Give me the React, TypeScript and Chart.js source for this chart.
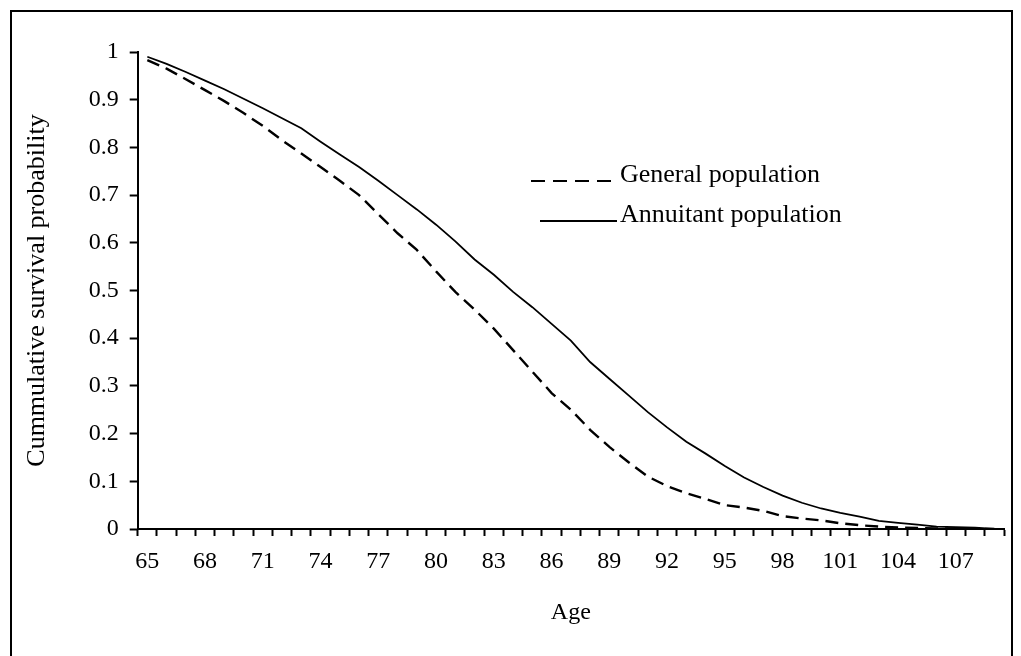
import React, { useEffect, useRef } from "react";
import { Chart, registerables } from "chart.js";

Chart.register(...registerables);

const ages: string[] = [];
for (let a = 65; a <= 109; a++) ages.push(String(a));

const generalPopulation = [
  0.983, 0.965, 0.943, 0.92, 0.897, 0.872, 0.845, 0.815, 0.787, 0.759,
  0.73, 0.70, 0.66, 0.62, 0.585, 0.54, 0.497, 0.46, 0.42, 0.375,
  0.33, 0.285, 0.25, 0.208, 0.172, 0.14, 0.11, 0.09, 0.075, 0.063,
  0.05, 0.045, 0.038, 0.027, 0.022, 0.018, 0.012, 0.008, 0.005, 0.003,
  0.002, 0.001, 0.001, 0.0005, 0.0,
];

const annuitantPopulation = [
  0.99, 0.975, 0.958, 0.94, 0.922, 0.902, 0.882, 0.861, 0.84, 0.812,
  0.785, 0.759, 0.73, 0.70, 0.67, 0.638, 0.603, 0.565, 0.533, 0.497,
  0.465, 0.43, 0.395, 0.35, 0.315, 0.28, 0.245, 0.213, 0.183, 0.158,
  0.132, 0.108, 0.088, 0.07, 0.055, 0.043, 0.034, 0.026, 0.017, 0.013,
  0.009, 0.005, 0.004, 0.003, 0.0,
];

const seriesLabels = ["General population", "Annuitant population"];
const yTitle = "Cummulative survival probability";
const xTitle = "Age";

const FONT = "'Liberation Serif', 'Times New Roman', serif";

const frame = {
  id: "frame",
  beforeDraw(chart: any) {
    const ctx = chart.ctx;
    ctx.save();
    ctx.fillStyle = "#fff";
    ctx.fillRect(0, 0, chart.width, chart.height);
    ctx.strokeStyle = "#000";
    ctx.lineWidth = 2;
    ctx.strokeRect(11, 11, 1001, 700);
    ctx.restore();
  },
};

const innerLegend = {
  id: "innerLegend",
  afterDatasetsDraw(chart: any) {
    const ctx = chart.ctx;
    const starts = [531, 540];
    ctx.save();
    chart.data.datasets.forEach((ds: any, i: number) => {
      const y = 181 + i * 40;
      ctx.beginPath();
      ctx.strokeStyle = "#000";
      ctx.lineWidth = 2;
      ctx.setLineDash(ds.borderDash ? [14, 8] : []);
      ctx.moveTo(starts[i], y);
      ctx.lineTo(617, y);
      ctx.stroke();
      ctx.setLineDash([]);
      ctx.fillStyle = "#000";
      ctx.font = `26px ${FONT}`;
      ctx.textBaseline = "alphabetic";
      ctx.textAlign = "left";
      ctx.fillText(ds.label, 620, y + 1);
    });
    ctx.restore();
  },
};

export default function App() {
  const ref = useRef<HTMLCanvasElement | null>(null);
  useEffect(() => {
    if (!ref.current) return;
    const chart = new Chart(ref.current, {
      type: "line",
      data: {
        labels: ages,
        datasets: [
          {
            label: seriesLabels[0],
            data: generalPopulation,
            borderColor: "#000",
            borderWidth: 2.4,
            borderDash: [13, 7],
            pointRadius: 0,
            tension: 0,
            fill: false,
          },
          {
            label: seriesLabels[1],
            data: annuitantPopulation,
            borderColor: "#000",
            borderWidth: 1.8,
            pointRadius: 0,
            tension: 0,
            fill: false,
          },
        ],
      },
      options: {
        responsive: false,
        animation: false,
        devicePixelRatio: 1,
        layout: { padding: { left: 10, right: 17, top: 52, bottom: 0 } },
        plugins: {
          legend: { display: false },
          tooltip: { enabled: false },
        },
        scales: {
          x: {
            type: "category",
            offset: true,
            grid: {
              offset: true,
              drawOnChartArea: false,
              drawTicks: true,
              tickLength: 7,
              tickWidth: 2,
              tickColor: "#000",
              color: "#000",
            },
            border: { display: true, color: "#000", width: 2 },
            ticks: {
              autoSkip: false,
              maxRotation: 0,
              minRotation: 0,
              color: "#000",
              padding: 11,
              font: { family: FONT, size: 24 },
              callback: (_v: any, i: number) => (i % 3 === 0 ? ages[i] : ""),
            },
            title: {
              display: true,
              text: xTitle,
              color: "#000",
              font: { family: FONT, size: 24 },
              padding: { top: 0, bottom: 29 },
            },
            afterFit: (s: any) => {
              s.height = 127;
            },
          },
          y: {
            min: 0,
            max: 1,
            grid: {
              drawOnChartArea: false,
              drawTicks: true,
              tickLength: 8,
              tickWidth: 2,
              tickColor: "#000",
              color: "#000",
            },
            border: { display: true, color: "#000", width: 2 },
            ticks: {
              stepSize: 0.1,
              color: "#000",
              padding: 11,
              font: { family: FONT, size: 24 },
              callback: (v: any) => String(Math.round(Number(v) * 10) / 10),
            },
            title: {
              display: true,
              text: yTitle,
              color: "#000",
              font: { family: FONT, size: 26 },
              padding: { top: 12, bottom: 0 },
            },
            afterFit: (s: any) => {
              s.width = 127.7;
            },
          },
        },
      },
      plugins: [frame, innerLegend],
    });
    return () => chart.destroy();
  }, []);
  return (
    <div style={{ position: "fixed", left: 0, top: 0, width: 1021, height: 656 }}>
      <canvas ref={ref} width={1021} height={656} />
    </div>
  );
}
